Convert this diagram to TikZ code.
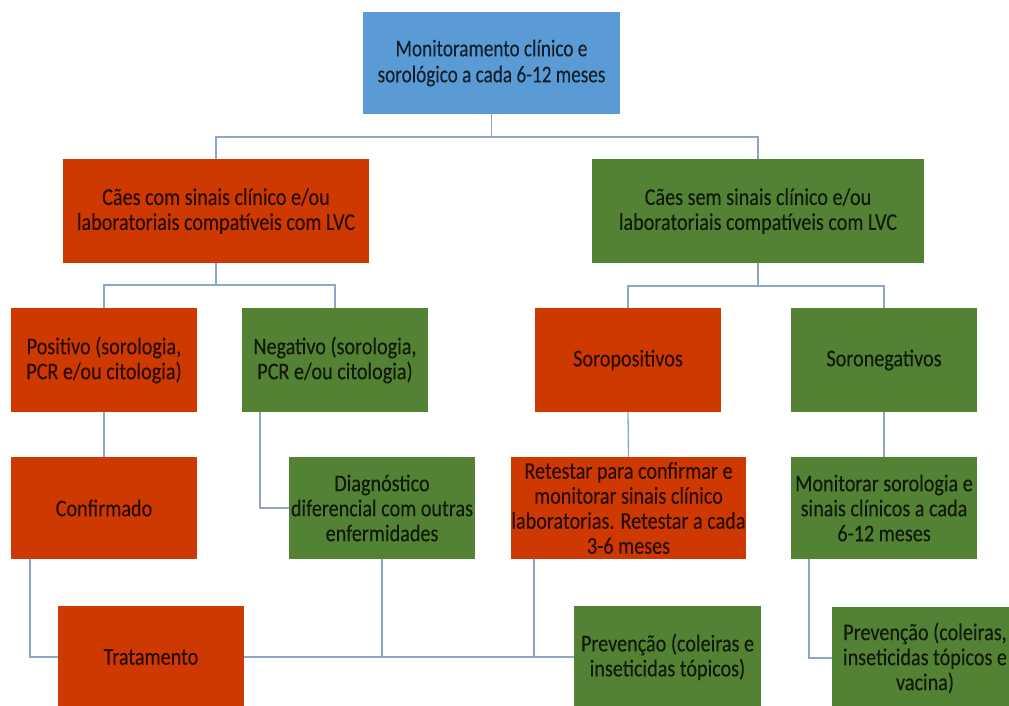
\documentclass[tikz,border=0pt]{standalone}
\usepackage{fontspec}
\setmainfont{Carlito}[FakeStretch=0.84,FakeBold=0.12]
\newfontfamily\narrowfont[FakeStretch=0.80,FakeBold=0.12]{Carlito}
\definecolor{cred}{RGB}{205,57,0}
\definecolor{cgreen}{RGB}{84,130,53}
\definecolor{cblue}{RGB}{91,155,213}
\definecolor{cline}{RGB}{140,166,200}
\tikzset{
  box/.style={rectangle, inner sep=0pt, align=center, text=black, text opacity=0.78,
    font=\fontsize{24}{25}\selectfont, minimum height=102pt},
  redbox/.style={box, fill=cred},
  greenbox/.style={box, fill=cgreen},
  bluebox/.style={box, fill=cblue},
  conn/.style={draw=cline, line width=1.3pt}
}
\begin{document}
\begin{tikzpicture}[x=1pt,y=-1pt]
\useasboundingbox (0,0) rectangle (1009,706);
% level 0
\node[bluebox, minimum width=257pt, font=\narrowfont\fontsize{24}{26}\selectfont] (top) at (491.5,63) {Monitoramento clínico e\\sorológico a cada 6-12 meses};
% level 1
\node[redbox, minimum width=306pt, minimum height=104pt] (L) at (216,211) {Cães com sinais clínico e/ou\\laboratoriais compatíveis com LVC};
\node[greenbox, minimum width=332pt, minimum height=104pt] (R) at (758,211) {Cães sem sinais clínico e/ou\\laboratoriais compatíveis com LVC};
% level 2
\node[redbox, minimum width=186pt, minimum height=104pt] (pos) at (104,360) {Positivo (sorologia,\\PCR e/ou citologia)};
\node[greenbox, minimum width=186pt, minimum height=104pt] (neg) at (335,360) {Negativo (sorologia,\\PCR e/ou citologia)};
\node[redbox, minimum width=186pt, minimum height=104pt] (sp) at (628,360) {Soropositivos};
\node[greenbox, minimum width=186pt, minimum height=104pt] (sn) at (884,360) {Soronegativos};
% level 3
\node[redbox, minimum width=186pt] (conf) at (104,508) {Confirmado};
\node[greenbox, minimum width=186pt] (diag) at (382,508) {Diagnóstico\\diferencial com outras\\enfermidades};
\node[redbox, minimum width=235pt] (ret) at (628.5,508) {Retestar para confirmar e\\monitorar sinais clínico\\laboratorias. Retestar a cada\\3-6 meses};
\node[greenbox, minimum width=186pt] (mon) at (884,508) {Monitorar sorologia e\\sinais clínicos a cada\\6-12 meses};
% level 4
\node[redbox, minimum width=186pt] (trat) at (151,657) {Tratamento};
\node[greenbox, minimum width=187pt] (prev1) at (667.5,657) {Prevenção (coleiras e\\inseticidas tópicos)};
\node[greenbox, minimum width=186pt] (prev2) at (925,658) {Prevenção (coleiras,\\inseticidas tópicos e\\vacina)};
% helper coordinates
\coordinate (j0) at (491.5,137);
\coordinate (jL) at (216,285);
\coordinate (jR) at (758,286);
% connectors
\draw[conn] (top.south) -- (j0);
\draw[conn] (j0) -| (L.north);
\draw[conn] (j0) -| (R.north);
\draw[conn] (L.south) -- (jL);
\draw[conn] (jL) -| (pos.north);
\draw[conn] (jL) -| (neg.north);
\draw[conn] (R.south) -- (jR);
\draw[conn] (jR) -| (sp.north);
\draw[conn] (jR) -| (sn.north);
\draw[conn] (pos.south) -- (conf.north);
\draw[conn] (sp.south) -- (ret.north);
\draw[conn] (sn.south) -- (mon.north);
\draw[conn] ([xshift=-75pt]neg.south) |- (diag.west);
\draw[conn] ([xshift=-74pt]conf.south) |- (trat.west);
\draw[conn] (trat.east) -- (prev1.west);
\draw[conn] (diag.south) -- (diag.south |- trat.east);
\draw[conn] ([xshift=-94.5pt]ret.south) -- ([xshift=-94.5pt]ret.south |- trat.east);
\draw[conn] ([xshift=-75pt]mon.south) |- (prev2.west);
\end{tikzpicture}
\end{document}
